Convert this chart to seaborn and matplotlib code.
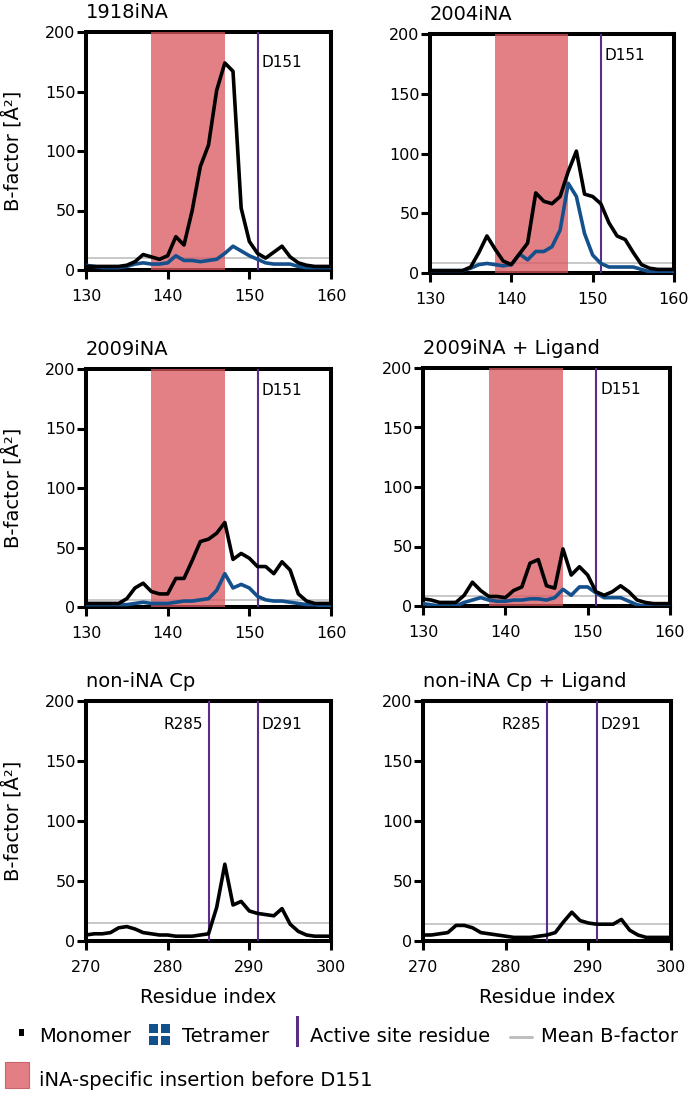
import numpy as np
import pandas as pd
import matplotlib.pyplot as plt
import seaborn as sns
from matplotlib.patches import Rectangle
from matplotlib.lines import Line2D

# ------------------------------------------------------------
# data
# ------------------------------------------------------------
residues_na = list(range(130, 161))
residues_cp = list(range(270, 301))

mono_1918 = [3, 3, 3, 3, 3, 4, 7, 13, 11, 9, 12, 28, 21, 50, 87, 105,
             151, 174, 167, 52, 24, 14, 10, 15, 20, 11, 6, 4, 3, 3, 3]
tetra_1918 = [4, 3, 2, 2, 2, 3, 5, 6, 5, 5, 6, 12, 8, 8, 7, 8,
              9, 14, 20, 16, 12, 9, 6, 5, 5, 5, 3, 2, 2, 2, 2]

mono_2004 = [2, 2, 2, 2, 2, 5, 17, 31, 20, 10, 7, 16, 25, 67, 60, 58,
             64, 85, 102, 66, 64, 58, 42, 31, 28, 17, 7, 4, 3, 3, 3]
tetra_2004 = [2, 2, 2, 2, 2, 4, 7, 8, 7, 6, 7, 16, 11, 18, 18, 22,
              36, 75, 64, 33, 15, 8, 5, 5, 5, 5, 3, 1, 1, 1, 1]

mono_2009 = [3, 3, 3, 3, 3, 7, 16, 20, 13, 11, 11, 24, 24, 39, 55, 57,
             62, 71, 40, 45, 41, 34, 34, 28, 38, 31, 11, 5, 3, 3, 3]
tetra_2009 = [2, 2, 2, 2, 2, 2, 3, 4, 3, 3, 3, 4, 5, 5, 6, 7,
              14, 28, 16, 19, 16, 9, 6, 5, 5, 4, 3, 2, 2, 1, 1]

mono_2009_lig = [6, 5, 3, 3, 3, 9, 20, 13, 8, 8, 7, 13, 16, 36, 39, 17,
                 15, 48, 26, 33, 26, 12, 9, 12, 17, 12, 5, 3, 2, 2, 2]
tetra_2009_lig = [2, 1, 0, 0, 0, 3, 5, 7, 5, 4, 4, 5, 5, 6, 6, 5,
                  7, 14, 9, 16, 16, 11, 7, 7, 7, 4, 1, 0, 0, 0, 0]

mono_cp = [5, 6, 6, 7, 11, 12, 10, 7, 6, 5, 5, 4, 4, 4, 5, 6,
           28, 64, 30, 33, 25, 23, 22, 21, 27, 14, 8, 5, 4, 4, 4]
mono_cp_lig = [5, 5, 6, 7, 13, 13, 11, 7, 6, 5, 4, 3, 3, 3, 4, 5,
               7, 16, 24, 17, 15, 14, 14, 14, 18, 9, 5, 3, 3, 3, 3]

titles = ['1918iNA', '2004iNA', '2009iNA', '2009iNA + Ligand',
          'non-iNA Cp', 'non-iNA Cp + Ligand']
mean_bfactor = [10, 8.5, 6, 8, 15, 14.5]
site_labels = [['D151'], ['D151'], ['D151'], ['D151'],
               ['R285', 'D291'], ['R285', 'D291']]
site_residues = [[151], [151], [151], [151], [285, 291], [285, 291]]
insertion = (138, 147)

monomer = [mono_1918, mono_2004, mono_2009, mono_2009_lig, mono_cp, mono_cp_lig]
tetramer = [tetra_1918, tetra_2004, tetra_2009, tetra_2009_lig, None, None]

rows = []
for i, name in enumerate(titles):
    res = residues_na if i < 4 else residues_cp
    for r, v in zip(res, monomer[i]):
        rows.append((name, 'Monomer', r, v))
    if tetramer[i] is not None:
        for r, v in zip(res, tetramer[i]):
            rows.append((name, 'Tetramer', r, v))
df = pd.DataFrame(rows, columns=['panel', 'form', 'residue', 'bfactor'])

# ------------------------------------------------------------
# style
# ------------------------------------------------------------
sns.set_style('white')
plt.rcParams['font.family'] = ['DejaVu Sans']
plt.rcParams['text.color'] = 'black'
plt.rcParams['axes.labelcolor'] = 'black'
plt.rcParams['xtick.color'] = 'black'
plt.rcParams['ytick.color'] = 'black'

BLACK = '#000000'
BLUE = '#14508C'
PINK = '#D9565E'
PURPLE = '#5B2D84'
GREY = '#BFBFBF'
palette = {'Monomer': BLACK, 'Tetramer': BLUE}

W, H = 693, 1094
fig = plt.figure(figsize=(W / 100, H / 100), dpi=100)

# axes boxes in pixels: left, top, right, bottom
boxes = [(86, 32, 331, 270), (430, 34, 674, 273),
         (86, 369, 331, 607), (423, 368, 670, 606),
         (86, 701, 331, 941), (423, 701, 671, 941)]
label_y = [171, 178, 178, 178, 177, 177]

for i, name in enumerate(titles):
    l, t, r, b = boxes[i]
    ax = fig.add_axes([l / W, 1 - b / H, (r - l) / W, (b - t) / H])
    sub = df[df['panel'] == name]

    ax.axhline(mean_bfactor[i], color=GREY, lw=1.2, zorder=1)
    if i < 4:
        ax.axvspan(*insertion, color=PINK, alpha=0.75, lw=0, zorder=3)
    for x, lab in zip(site_residues[i], site_labels[i]):
        ax.axvline(x, color=PURPLE, lw=1.5, zorder=3.5)
        if lab.startswith('R'):
            ax.text(x - 0.7, label_y[i], lab, ha='right', va='baseline',
                    fontsize=11, color=BLACK)
        else:
            ax.text(x + 0.5, label_y[i], lab, ha='left', va='baseline',
                    fontsize=11, color=BLACK)

    hue_order = [f for f in ['Tetramer', 'Monomer'] if f in sub['form'].unique()]
    sns.lineplot(data=sub, x='residue', y='bfactor', hue='form', hue_order=hue_order,
                 palette=palette, lw=2.6, legend=False, ax=ax, zorder=4,
                 solid_joinstyle='round', solid_capstyle='round')

    lo = 130 if i < 4 else 270
    ax.set_xlim(lo, lo + 30)
    ax.set_xticks(range(lo, lo + 31, 10))
    ax.set_ylim(0, 200)
    ax.set_yticks(range(0, 201, 50))

    for sp in ax.spines.values():
        sp.set_visible(True)
        sp.set_linewidth(2.9)
        sp.set_color(BLACK)
    ax.tick_params(axis='both', direction='out', length=6.5, width=2.2,
                   color=BLACK, labelsize=11.5, labelcolor=BLACK,
                   bottom=True, left=True, top=False, right=False)
    ax.tick_params(axis='x', pad=7)
    ax.tick_params(axis='y', pad=1)

    ax.set_title(name, loc='left', pad=10, fontsize=14, color=BLACK)
    ax.set_xlabel('')
    ax.set_ylabel('')
    if i % 2 == 0:
        ax.set_ylabel('B-factor [Å²]', fontsize=14, color=BLACK)
        ax.yaxis.set_label_coords(-0.255, 0.5)
    if i >= 4:
        ax.set_xlabel('Residue index', fontsize=14, color=BLACK)
        ax.xaxis.set_label_coords(0.5, -0.195)


# ------------------------------------------------------------
# legend, drawn by hand at the bottom
# ------------------------------------------------------------
def fx(x):
    return x / W


def fy(y):
    return 1 - y / H


def box(x0, y0, x1, y1, **kw):
    fig.add_artist(Rectangle((fx(x0), fy(y1)), (x1 - x0) / W, (y1 - y0) / H,
                             transform=fig.transFigure, **kw))


box(19, 1029, 24, 1036, color=BLACK, lw=0)
fig.text(fx(39), fy(1042), 'Monomer', fontsize=14, va='baseline', color=BLACK)

for sx in (149, 161):
    for sy in (1024, 1036):
        box(sx, sy, sx + 8.5, sy + 8.5, color=BLUE, lw=0)
fig.text(fx(182), fy(1042), 'Tetramer', fontsize=14, va='baseline', color=BLACK)

box(296, 1016, 299, 1047, color=PURPLE, lw=0)
fig.text(fx(310), fy(1042), 'Active site residue', fontsize=14, va='baseline', color=BLACK)

fig.add_artist(Line2D([fx(510), fx(532)], [fy(1037), fy(1037)], color=GREY, lw=2.2,
                      transform=fig.transFigure))
fig.text(fx(541), fy(1042), 'Mean B-factor', fontsize=14, va='baseline', color=BLACK)

box(5, 1062, 29, 1088, facecolor='#E27E84', edgecolor='#C8646B', lw=0.8)
fig.text(fx(39), fy(1086), 'iNA-specific insertion before D151', fontsize=14,
         va='baseline', color=BLACK)

fig.savefig('out.png', dpi=100)
